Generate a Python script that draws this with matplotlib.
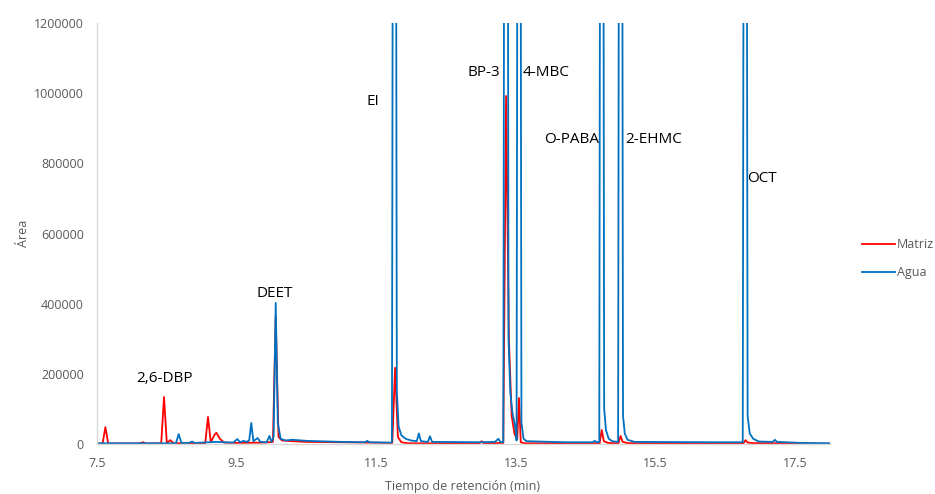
import matplotlib.pyplot as plt

plt.rcParams['font.family'] = ['Open Sans', 'DejaVu Sans']

# Matriz (red) chromatogram
matriz_t = [7.50, 7.58, 7.62, 7.66, 8.10, 8.16, 8.20, 8.42, 8.46, 8.50, 8.55, 8.60,
            9.05, 9.09, 9.13, 9.18, 9.21, 9.26, 9.32, 9.50, 9.90, 10.02, 10.06, 10.10,
            10.15, 10.30, 10.50, 11.00, 11.73, 11.77, 11.81, 11.86, 11.95, 12.98, 13.01,
            13.04, 13.32, 13.36, 13.40, 13.44, 13.48, 13.50, 13.52, 13.545, 13.57, 13.62,
            14.70, 14.73, 14.76, 14.82, 14.97, 15.00, 15.03, 15.10, 16.76, 16.79, 16.82,
            16.90, 18.00]
matriz_y = [1000, 1500, 48000, 1500, 1500, 5000, 1500, 2000, 134000, 3000, 11000, 2000,
            2000, 77000, 5000, 25000, 32000, 15000, 4000, 3000, 4000, 6000, 362000, 20000,
            10000, 8000, 6000, 5000, 3000, 217000, 20000, 5000, 2000, 2000, 8000,
            2000, 3000, 992000, 300000, 80000, 30000, 20000, 15000, 131000, 5000, 2000,
            2000, 40000, 8000, 3000, 2000, 23000, 6000, 2500, 2000, 11000, 4000,
            2500, 1000]

# Agua (blue) chromatogram
agua_t = [7.50, 8.63, 8.67, 8.71, 8.82, 8.86, 8.90, 9.20, 9.45, 9.51, 9.55, 9.60, 9.64,
          9.68, 9.71, 9.74, 9.80, 9.84, 9.93, 9.97, 10.00, 10.03, 10.06, 10.09, 10.13,
          10.20, 10.30, 10.50, 11.00, 11.34, 11.37, 11.40, 11.70, 11.725, 11.76, 11.795,
          11.82, 11.86, 11.92, 12.00, 12.08, 12.11, 12.14, 12.24, 12.27, 12.30, 13.00,
          13.20, 13.25, 13.28, 13.32, 13.36, 13.395, 13.42, 13.45, 13.48, 13.50, 13.51,
          13.545, 13.58, 13.61, 13.65, 14.20, 14.60, 14.63, 14.66, 14.695, 14.73, 14.765,
          14.79, 14.83, 14.88, 14.965, 15.00, 15.035, 15.06, 15.10, 15.20, 16.30, 16.75,
          16.786, 16.82, 16.85, 16.90, 16.98, 17.18, 17.21, 17.24, 17.60, 18.00]
agua_y = [2000, 2000, 28000, 3000, 3000, 7000, 3000, 6000, 4000, 14000, 5000, 9000, 6000,
          10000, 60000, 8000, 17000, 6000, 5000, 23000, 6000, 20000, 402000, 60000, 15000,
          10000, 12000, 9000, 6000, 5000, 9000, 5000, 4000, 5000, 4500000, 150000,
          50000, 25000, 15000, 10000, 8000, 30000, 8000, 6000, 22000, 6000, 5000,
          6000, 15000, 5000, 6000, 5000000, 300000, 150000, 90000, 60000, 35000, 10000,
          4500000, 60000, 15000, 8000, 5000, 5000, 9000, 5000, 6000, 5000000, 100000,
          40000, 15000, 8000, 6000, 5000000, 80000, 30000, 12000, 6000, 5000, 5000,
          4500000, 80000, 30000, 15000, 7000, 6000, 12000, 6000, 3000, 2000]

peak_names = ['2,6-DBP', 'DEET', 'EI', 'BP-3', '4-MBC', 'O-PABA', '2-EHMC', 'OCT']
label_t = [8.06, 9.79, 11.36, 12.81, 13.59, 13.90, 15.06, 16.81]
label_y = [188000, 430000, 975000, 1060000, 1060000, 869000, 869000, 758000]

red = '#FF0000'
blue = '#0070C0'
grey = '#595959'

fig = plt.figure(figsize=(9.35, 4.94), dpi=100)
ax = fig.add_axes([97 / 935, 1 - 444 / 494, 733 / 935, 421 / 494])

ax.plot(matriz_t, matriz_y, color=red, lw=1.3, label='Matriz')
ax.plot(agua_t, agua_y, color=blue, lw=1.3, label='Agua')

for name, t, y in zip(peak_names, label_t, label_y):
    ax.text(t, y, name, fontsize=11, ha='left', va='center', color='black')

ax.set_xlim(7.5, 18.0)
ax.set_ylim(0, 1200000)
ax.set_xticks([7.5, 9.5, 11.5, 13.5, 15.5, 17.5])
ax.set_yticks(range(0, 1200001, 200000))
ax.ticklabel_format(axis='y', style='plain', useOffset=False)
ax.tick_params(length=0, labelsize=9, labelcolor=grey)
ax.tick_params(axis='y', pad=9.5)
ax.tick_params(axis='x', pad=9)

for side in ['top', 'right']:
    ax.spines[side].set_visible(False)
for side in ['left', 'bottom']:
    ax.spines[side].set_color('#D9D9D9')
    ax.spines[side].set_linewidth(1)

ax.set_ylabel('Área', fontsize=9, color=grey, va='center')
ax.yaxis.set_label_coords(-0.1, 0.5)
ax.set_xlabel('Tiempo de retención (min)', fontsize=9, color=grey, va='center')
ax.xaxis.set_label_coords(0.499, -0.1)

ax.legend(loc='upper left', bbox_to_anchor=(862 / 935, 1 - 238 / 494),
          bbox_transform=fig.transFigure, frameon=False, fontsize=9,
          labelcolor=grey, handlelength=2.6, handletextpad=0.2,
          labelspacing=1.2, borderpad=0, borderaxespad=0)

fig.savefig('out.png', dpi=100)
